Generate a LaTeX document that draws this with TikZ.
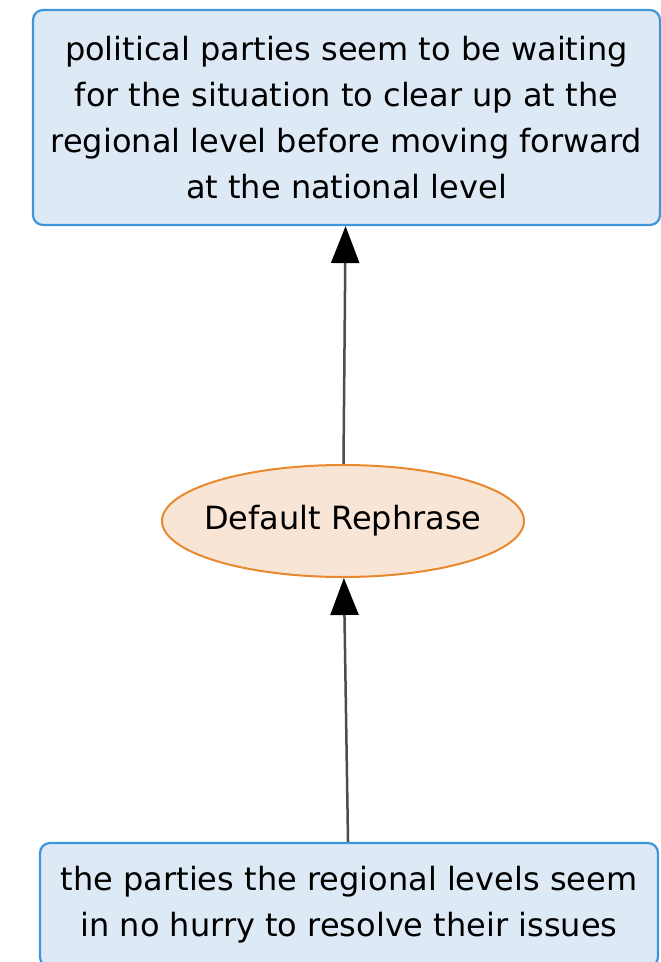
\documentclass[tikz,border=0pt]{standalone}
\usepackage{fontspec}
\setmainfont{DejaVu Sans}
\usetikzlibrary{shapes.geometric,arrows.meta}
\definecolor{boxfill}{HTML}{DDEAF6}
\definecolor{boxline}{HTML}{3F95DA}
\definecolor{ovalfill}{HTML}{F9E5D6}
\definecolor{ovalline}{HTML}{E8892E}
\begin{document}
\begin{tikzpicture}[x=1pt,y=1pt,
  claim/.style={draw=boxline,line width=2.2pt,fill=boxfill,rounded corners=10pt,
    align=center,inner sep=0pt,font=\fontsize{32}{46}\selectfont},
  rephrase/.style={ellipse,draw=ovalline,line width=2pt,fill=ovalfill,
    inner xsep=-12pt,inner ysep=0pt,font=\fontsize{32}{46}\selectfont},
  arr/.style={draw=black!70,line width=2.5pt,-{Triangle[width=28pt,length=37pt,color=black]}}]
\useasboundingbox (0,0) rectangle (661,-962);
\node[claim,minimum width=627pt,minimum height=215pt] (conclusion) at (346.5,-117.5)
  {political parties seem to be waiting\\for the situation to clear up at the\\regional level before moving forward\\at the national level};
\node[rephrase,minimum width=362pt,minimum height=112pt] (rule) at (343,-521) {Default Rephrase};
\node[claim,minimum width=618pt,minimum height=124pt] (premise) at (349,-905)
  {the parties the regional levels seem\\in no hurry to resolve their issues};
\draw[arr] (premise) -- (rule);
\draw[arr] (rule) -- (conclusion);
\end{tikzpicture}
\end{document}
